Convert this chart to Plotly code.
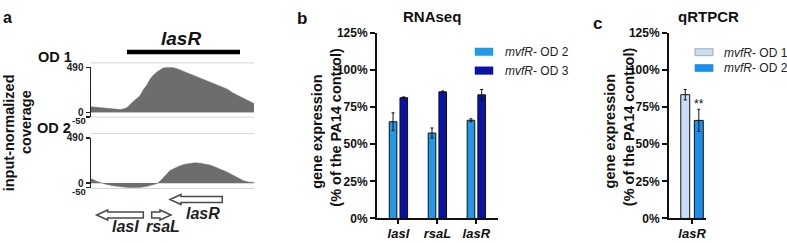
import plotly.graph_objects as go

W, H = 787, 243
FONT = "Liberation Sans, Arial, sans-serif"

# ---------------- Data ----------------
# Panel a: input-normalized coverage (position along locus, coverage)
pos_od1 = [0, 2, 9, 16, 22, 29, 33, 36, 42, 46, 49, 52, 56, 59, 62, 66, 69, 72, 76, 79, 82, 86,
           89, 96, 102, 109, 116, 122, 129, 136, 142, 149, 156, 163]
cov_od1 = [60, 58, 51, 44, 35, 30, 38, 51, 115, 150, 180, 240, 300, 360, 400, 440, 465, 482, 492,
           490, 487, 475, 462, 430, 400, 375, 345, 320, 290, 255, 210, 170, 135, 95]
pos_od2 = [0, 2, 6, 11, 16, 22, 29, 36, 42, 49, 56, 61, 66, 69, 72, 76, 79, 84, 89, 94, 99, 104,
           109, 114, 119, 124, 129, 136, 142, 149, 152, 157, 163]
cov_od2 = [45, 40, 17, 0, -16, -28, -41, -48, -50, -48, -36, -25, -6, 20, 51, 100, 137, 165, 188,
           205, 216, 220, 216, 205, 195, 175, 154, 120, 86, 50, 28, 12, 7]
cov_ticks = [-50, 0, 490]
lasR_region = [36, 149]
genes = ["lasI", "rsaL", "lasR"]
gene_start = [5.7, 60.7, 79.0]
gene_end = [52.3, 80.0, 131.3]
gene_strand = ["-", "+", "-"]

# Panel b: RNAseq
b_cats = ["lasI", "rsaL", "lasR"]
b_od2 = [65.1, 57.5, 66.1]
b_od2_err = [6.0, 3.4, 1.0]
b_od3 = [81.3, 85.2, 83.2]
b_od3_err = [0.5, 0.6, 3.6]

# Panel c: qRTPCR
c_cats = ["lasR"]
c_od1 = [83.3]
c_od1_err = [3.5]
c_od2 = [66.0]
c_od2_err = [7.5]

pct_ticks = [0, 25, 50, 75, 100, 125]

# ---------------- Styles ----------------
GRAY = "#6d6d6d"
B_LIGHT = "#2299e4"
B_DARK = "#0b12a6"
C_LIGHT = "#c9ddf4"
C_BLUE = "#1a90ea"


def px(x):
    return x / W


def py(y):
    return 1 - y / H


fig = go.Figure()

# ---------------- Panel a ----------------
fig.add_trace(go.Scatter(x=pos_od1, y=cov_od1, mode="lines", line=dict(width=0.5, color=GRAY),
                         fill="tozeroy", fillcolor=GRAY, xaxis="x", yaxis="y",
                         showlegend=False, hoverinfo="skip"))
fig.add_trace(go.Scatter(x=pos_od2, y=cov_od2, mode="lines", line=dict(width=0.5, color=GRAY),
                         fill="tozeroy", fillcolor=GRAY, xaxis="x2", yaxis="y2",
                         showlegend=False, hoverinfo="skip"))

a_x_dom = [px(91), px(254)]
a_xrange = [0, 163]
a_common_y = dict(range=[-50, 490], tickvals=cov_ticks, ticktext=["", "0", "490"],
                  ticks="outside", ticklen=4, tickwidth=1.5, tickcolor="#222",
                  showline=True, linecolor="#222", linewidth=1.5, showgrid=False,
                  zeroline=True, zerolinecolor="#d8d8d8", zerolinewidth=1,
                  tickfont=dict(family=FONT, size=10, color="#222", weight="bold"),
                  ticklabelstandoff=0, fixedrange=True)

layout = dict(
    width=W, height=H, autosize=False,
    margin=dict(l=0, r=0, t=0, b=0),
    paper_bgcolor="white", plot_bgcolor="rgba(0,0,0,0)",
    showlegend=False,
    font=dict(family=FONT, color="#111"),
    xaxis=dict(domain=a_x_dom, range=a_xrange, visible=False, fixedrange=True),
    xaxis2=dict(domain=a_x_dom, range=a_xrange, visible=False, fixedrange=True, anchor="y2"),
    yaxis=dict(domain=[py(116.6), py(64)], anchor="x", **a_common_y),
    yaxis2=dict(domain=[py(191.7), py(139)], anchor="x2", **a_common_y),
)

shapes = []
annotations = []

# light frame lines for tracks
for ytop, ybot in [(59.3, 116.8), (134.3, 192.5)]:
    for yy in (ytop, ybot):
        shapes.append(dict(type="line", xref="paper", yref="paper", x0=px(91), x1=px(254),
                           y0=py(yy), y1=py(yy), line=dict(color="#d4d4d4", width=1), layer="below"))

# lasR region bar
shapes.append(dict(type="line", xref="x", yref="paper", x0=lasR_region[0], x1=lasR_region[1],
                   y0=py(47.7), y1=py(47.7), line=dict(color="black", width=4.5)))

# gene arrows
gene_rows = {"lasI": 220.7, "rsaL": 220.7, "lasR": 204.3}
head_len = 11
for g, s, e, st in zip(genes, gene_start, gene_end, gene_strand):
    yc = gene_rows[g]
    bt, bb = py(yc - 3.2), py(yc + 3.2)
    ht, hb = py(yc - 5.3), py(yc + 5.3)
    ym = py(yc)
    hl = min(head_len, (e - s) * 0.6)
    if st == "-":
        hx = s + hl
        path = (f"M {s},{ym} L {hx},{ht} L {hx},{bt} L {e},{bt} L {e},{bb} "
                f"L {hx},{bb} L {hx},{hb} Z")
    else:
        hx = e - hl
        path = (f"M {e},{ym} L {hx},{ht} L {hx},{bt} L {s},{bt} L {s},{bb} "
                f"L {hx},{bb} L {hx},{hb} Z")
    shapes.append(dict(type="path", xref="x", yref="paper", path=path,
                       fillcolor="white", line=dict(color="#4a4a4a", width=1.5)))

gene_label_pos = {"lasI": (125, 233), "rsaL": (163, 233), "lasR": (203, 219)}
for g in genes:
    gx, gy = gene_label_pos[g]
    annotations.append(dict(text=f"<b><i>{g}</i></b>", xref="paper", yref="paper",
                            x=px(gx), y=py(gy), showarrow=False, xanchor="center",
                            yanchor="middle", font=dict(family=FONT, size=16, color="#222")))


def txt(t, x, y, size, angle=0, xanchor="center", color="#111"):
    annotations.append(dict(text=t, xref="paper", yref="paper", x=px(x), y=py(y),
                            showarrow=False, xanchor=xanchor, yanchor="middle",
                            textangle=angle, font=dict(family=FONT, size=size, color=color)))


txt("<b>a</b>", 7, 11, 16)
txt("<b><i>lasR</i></b>", 181, 33, 19)
txt("<b>OD 1</b>", 54.5, 53, 14.5)
txt("<b>OD 2</b>", 53.5, 128, 14.5)
txt("<b>input-normalized</b>", 9, 134, 14.5, angle=-90)
txt("<b>coverage</b>", 26, 122, 14.5, angle=-90)
# lower coverage tick labels (-50), placed just under the "0" labels
for ylab in (120.5, 195.5):
    annotations.append(dict(text="<b>-50</b>", xref="paper", yref="paper", x=px(87.5), y=py(ylab),
                            showarrow=False, xanchor="right", yanchor="middle",
                            font=dict(family=FONT, size=9.5, color="#222")))

# ---------------- Panel b ----------------
bar_line = dict(color="#111", width=1)
err_style = dict(type="data", visible=True, color="#111", thickness=1, width=1.5)
fig.add_trace(go.Bar(x=b_cats, y=b_od2, error_y=dict(array=b_od2_err, **err_style),
                     width=0.195, offset=-0.235, marker=dict(color=B_LIGHT, line=bar_line),
                     xaxis="x3", yaxis="y3", showlegend=False))
fig.add_trace(go.Bar(x=b_cats, y=b_od3, error_y=dict(array=b_od3_err, **err_style),
                     width=0.195, offset=0.04, marker=dict(color=B_DARK, line=bar_line),
                     xaxis="x3", yaxis="y3", showlegend=False))

pct_y = dict(range=[0, 125], tickvals=pct_ticks, ticktext=[f"{v}%" for v in pct_ticks],
             ticks="outside", ticklen=5, tickwidth=2, tickcolor="#111",
             showline=True, linecolor="#111", linewidth=2, showgrid=False, zeroline=False,
             tickfont=dict(family=FONT, size=12, color="#111", weight="bold"),
             domain=[py(224.4), py(27.3)], fixedrange=True)
cat_x = dict(type="category", ticks="outside", ticklen=4, tickwidth=2, tickcolor="#111",
             showline=True, linecolor="#111", linewidth=2, showgrid=False, zeroline=False,
             tickfont=dict(family=FONT, size=13, color="#111", weight="bold", style="italic"),
             ticklabelstandoff=-2, fixedrange=True)

layout["xaxis3"] = dict(domain=[px(377), px(498)], range=[-0.55, 2.557], anchor="y3", **cat_x)
layout["yaxis3"] = dict(anchor="x3", **pct_y)

txt("<b>b</b>", 302, 12, 17)
txt("<b>RNAseq</b>", 432, 10, 15)
txt("<b>gene expression</b>", 317.5, 133, 14.5, angle=-90)
txt("<b>(% of the PA14 control)</b>", 336, 128, 14.5, angle=-90)

# ---------------- Panel c ----------------
fig.add_trace(go.Bar(x=c_cats, y=c_od1, error_y=dict(array=c_od1_err, **err_style),
                     width=0.23, offset=-0.29, marker=dict(color=C_LIGHT, line=bar_line),
                     xaxis="x4", yaxis="y4", showlegend=False))
fig.add_trace(go.Bar(x=c_cats, y=c_od2, error_y=dict(array=c_od2_err, **err_style),
                     width=0.23, offset=0.06, marker=dict(color=C_BLUE, line=bar_line),
                     xaxis="x4", yaxis="y4", showlegend=False))

layout["xaxis4"] = dict(domain=[px(669), px(706)], range=[-0.594, 0.36], anchor="y4", **cat_x)
layout["yaxis4"] = dict(anchor="x4", **pct_y)

annotations.append(dict(text="**", xref="x4", yref="y4", x=0.175, y=c_od2[0] + c_od2_err[0] + 3.5,
                        showarrow=False, xanchor="center", yanchor="middle",
                        font=dict(family=FONT, size=12, color="#111")))

txt("<b>c</b>", 597, 17, 17)
txt("<b>qRTPCR</b>", 708, 10, 15)
txt("<b>gene expression</b>", 610, 132, 14.5, angle=-90)
txt("<b>(% of the PA14 control)</b>", 628.5, 127, 14.5, angle=-90)

# ---------------- Manual legends ----------------
legend_b = [(B_LIGHT, "<i>mvfR</i>- OD 2", 47.5), (B_DARK, "<i>mvfR</i>- OD 3", 67.5)]
for col, lab, yc in legend_b:
    shapes.append(dict(type="rect", xref="paper", yref="paper", x0=px(475), x1=px(493),
                       y0=py(yc + 4), y1=py(yc - 4), fillcolor=col, line=dict(color=col, width=0.5)))
    txt(lab, 503, yc + 0.5, 12, xanchor="left", color="#222")

legend_c = [(C_LIGHT, "<i>mvfR</i>- OD 1", 48), (C_BLUE, "<i>mvfR</i>- OD 2", 64.7)]
for col, lab, yc in legend_c:
    shapes.append(dict(type="rect", xref="paper", yref="paper", x0=px(695), x1=px(713),
                       y0=py(yc + 3.7), y1=py(yc - 3.7), fillcolor=col,
                       line=dict(color="#8a8a8a" if col == C_LIGHT else col, width=0.7)))
    txt(lab, 722, yc + 0.5, 12, xanchor="left", color="#222")

layout["shapes"] = shapes
layout["annotations"] = annotations
layout["bargap"] = 0
fig.update_layout(**layout)

fig.write_html("out.html", config={"displayModeBar": False, "staticPlot": True},
               post_script="document.body.style.margin='0';document.body.style.padding='0';")
